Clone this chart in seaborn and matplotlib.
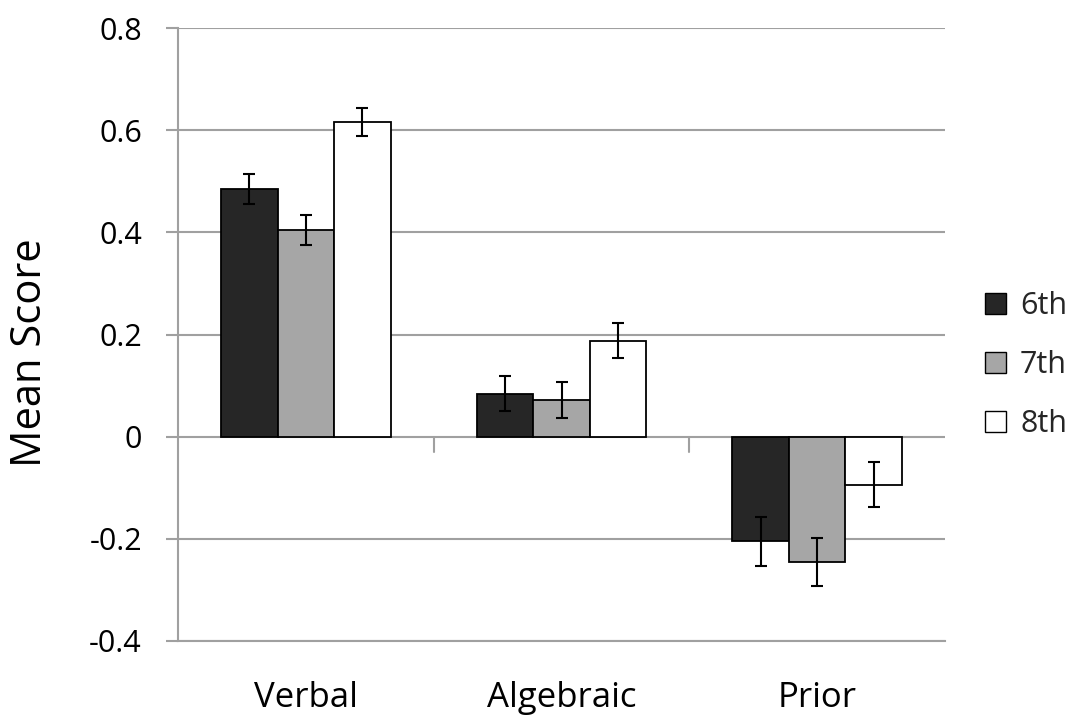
import matplotlib
matplotlib.use("Agg")
import matplotlib.pyplot as plt
import seaborn as sns
import pandas as pd
import numpy as np

categories = ["Verbal", "Algebraic", "Prior"]
grades = ["6th", "7th", "8th"]
means_6th = [0.485, 0.084, -0.205]
means_7th = [0.405, 0.072, -0.245]
means_8th = [0.616, 0.188, -0.094]
err_6th = [0.030, 0.034, 0.048]
err_7th = [0.029, 0.035, 0.047]
err_8th = [0.028, 0.034, 0.044]
yticks = [-0.4, -0.2, 0, 0.2, 0.4, 0.6, 0.8]
ytick_labels = ["-0.4", "-0.2", "0", "0.2", "0.4", "0.6", "0.8"]

means = {"6th": means_6th, "7th": means_7th, "8th": means_8th}
errs = {"6th": err_6th, "7th": err_7th, "8th": err_8th}
rows = []
for g in grades:
    for c, m in zip(categories, means[g]):
        rows.append({"Category": c, "Grade": g, "Mean": m})
df = pd.DataFrame(rows)

sns.set_theme(style="white")
plt.rcParams["font.family"] = ["Open Sans", "DejaVu Sans"]

fig = plt.figure(figsize=(10.71, 7.15), dpi=100)
ax = fig.add_axes([0.1662, 0.1035, 0.8824 - 0.1662, 0.9608 - 0.1035])

grid_col = "#a0a0a0"
palette = {"6th": "#262626", "7th": "#a6a6a6", "8th": "#ffffff"}
sns.barplot(data=df, x="Category", y="Mean", hue="Grade", order=categories,
            hue_order=grades, palette=palette, errorbar=None, width=0.663,
            edgecolor="black", linewidth=1.3, saturation=1, ax=ax, zorder=3)

# error bars from bar geometry
for g, cont in zip(grades, ax.containers):
    xs = [p.get_x() + p.get_width() / 2 for p in cont.patches]
    hs = [p.get_height() for p in cont.patches]
    ax.errorbar(xs, hs, yerr=errs[g], fmt="none", ecolor="black",
                elinewidth=1.5, capsize=4, capthick=1.5, zorder=4)

ax.set_ylim(-0.4, 0.8)
ax.set_xlim(-0.5, 2.5)
ax.set_yticks(yticks)
ax.set_yticklabels(ytick_labels)
ax.yaxis.grid(True, color=grid_col, linewidth=1.5)
ax.set_axisbelow(True)
for s in ["top", "right"]:
    ax.spines[s].set_visible(False)
ax.spines["left"].set_color(grid_col)
ax.spines["left"].set_linewidth(1.5)
ax.spines["bottom"].set_color(grid_col)
ax.spines["bottom"].set_linewidth(1.5)
ax.tick_params(axis="y", which="both", left=True, length=9, width=1.5,
               color=grid_col, labelsize=22, pad=17, labelcolor="black")
ax.tick_params(axis="x", bottom=False, labelsize=25, pad=23, labelcolor="black")

# category boundary ticks on the zero line
for xb in [0.5, 1.5]:
    ax.plot([xb, xb], [0, -0.03], color=grid_col, linewidth=1.5, zorder=2)

ax.set_xlabel("")
ax.set_ylabel("Mean Score", fontsize=30, color="black")
ax.yaxis.set_label_coords(-0.165, 0.471)

leg = ax.legend(loc="center left", bbox_to_anchor=(1.052, 0.45), frameon=False,
                fontsize=22, handlelength=0.7, handleheight=0.7,
                labelspacing=0.95, handletextpad=0.45, borderpad=0,
                borderaxespad=0)
for h in leg.legend_handles:
    h.set_edgecolor("black")
    h.set_linewidth(1.0)

fig.savefig("out.png", dpi=100)
